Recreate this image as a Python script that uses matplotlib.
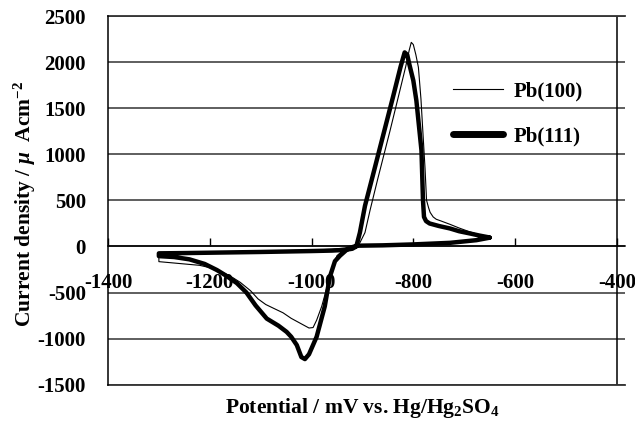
import matplotlib
matplotlib.use("Agg")
import matplotlib.pyplot as plt

plt.rcParams['font.family'] = ['Liberation Serif', 'DejaVu Serif']
plt.rcParams['font.weight'] = 'bold'
plt.rcParams['axes.unicode_minus'] = False
plt.rcParams['mathtext.fontset'] = 'custom'
plt.rcParams['mathtext.rm'] = 'Liberation Serif:bold'
plt.rcParams['mathtext.it'] = 'Liberation Serif:italic:bold'
plt.rcParams['mathtext.bf'] = 'Liberation Serif:bold'

# Pb(100): thin line, sweep starting at -650 mV going negative, then back
x100 = [-650, -700, -760, -820, -880, -920, -935, -950, -960, -970, -980, -990, -997,
        -1005, -1020, -1040, -1056, -1075, -1090, -1105, -1120, -1140, -1160, -1180,
        -1200, -1220, -1240, -1270, -1300,
        -1300, -1250, -1200, -1150, -1100, -1050, -1000, -960, -930, -912, -905, -895,
        -885, -870, -846, -830, -815, -808, -804, -800, -795, -790, -785, -781, -777,
        -774, -770, -767, -761, -755, -745, -728, -710, -690, -670, -650]
y100 = [90, 50, 25, 15, 8, 0, -30, -100, -250, -450, -650, -800, -880,
        -885, -840, -780, -720, -670, -630, -570, -480, -390, -320, -270,
        -230, -205, -195, -180, -165,
        -65, -62, -58, -55, -50, -45, -40, -30, -15, 5, 40, 150,
        393, 730, 1250, 1610, 1950, 2130, 2214, 2190, 2080, 1943, 1600, 1222, 850,
        501, 420, 370, 320, 295, 275, 240, 200, 160, 125, 100]

# Pb(111): thick line
x111 = [-650, -676, -728, -800, -860, -911, -928, -944, -954, -964, -974, -990, -1005,
        -1013, -1020, -1029, -1040, -1049, -1065, -1088, -1110, -1128, -1147, -1170,
        -1186, -1210, -1240, -1270, -1300,
        -1300, -1250, -1200, -1150, -1100, -1050, -1000, -960, -935, -920, -912, -905,
        -895, -880, -860, -840, -825, -817, -812, -808, -800, -794, -784, -781, -779,
        -775, -768, -750, -728, -710, -689, -670, -650]
y111 = [95, 68, 39, 22, 12, 8, -22, -100, -160, -330, -650, -980, -1170,
        -1222, -1200, -1070, -980, -927, -860, -783, -640, -500, -397, -310,
        -256, -190, -140, -115, -105,
        -75, -72, -68, -64, -60, -55, -50, -45, -38, -25, 0, 150,
        440, 760, 1190, 1620, 1950, 2105, 2080, 1980, 1800, 1583, 1042, 501, 320,
        275, 249, 222, 195, 165, 141, 118, 97]

xticks = [-1400, -1200, -1000, -800, -600, -400]
yticks = [-1500, -1000, -500, 0, 500, 1000, 1500, 2000, 2500]

fig = plt.figure(figsize=(6.35, 4.24), dpi=100)
ax = fig.add_axes([108 / 635, 1 - 384.7 / 424, 517 / 635, (384.7 - 16) / 424])

ax.set_xlim(-1400, -384)
ax.set_ylim(-1500, 2500)
ax.set_xticks(xticks)
ax.set_yticks(yticks)

ax.set_axisbelow(True)
ax.yaxis.grid(True, color='#333333', lw=1.1)
ax.xaxis.grid(False)
ax.plot([-400, -400], [-1500, 2500], color='black', lw=1.1, zorder=2)
ax.plot([-1400, -384], [2500, 2500], color='#333333', lw=1.3, zorder=2, clip_on=False)
ax.plot([-1400, -384], [-1500, -1500], color='#333333', lw=1.3, zorder=2, clip_on=False)

l1, = ax.plot(x100, y100, color='black', lw=0.8, zorder=3, label='Pb(100)')
l2, = ax.plot(x111, y111, color='black', lw=3.2, zorder=4, label='Pb(111)',
              solid_joinstyle='round', solid_capstyle='round')

for s in ['right', 'top']:
    ax.spines[s].set_visible(False)
ax.spines['bottom'].set_position(('data', 0))
ax.spines['bottom'].set_color('black')
ax.spines['bottom'].set_linewidth(1.1)
ax.spines['bottom'].set_zorder(2.5)
ax.spines['left'].set_color('black')
ax.spines['left'].set_linewidth(1.1)

ax.tick_params(axis='x', direction='in', length=6, width=1.0, pad=19,
               labelsize=15, top=False, bottom=True)
ax.tick_params(axis='y', length=0, pad=16, labelsize=15)
for t in ax.get_xticklabels() + ax.get_yticklabels():
    t.set_fontweight('bold')

fig.text(363 / 635, 1 - 408 / 424, 'Potential / mV vs. Hg/Hg$_2$SO$_4$',
         ha='center', va='center', fontsize=15.5, fontweight='bold')
fig.text(25 / 635, 1 - 204 / 424, r'Current density / $\mathit{\mu}$  Acm$^{-2}$',
         ha='center', va='center', rotation=90, fontsize=15.5, fontweight='bold')

leg = ax.legend(handles=[l1, l2], loc='center left', frameon=False,
                bbox_to_anchor=(453 / 635, 1 - 113.5 / 424), bbox_transform=fig.transFigure,
                borderpad=0, borderaxespad=0, handlelength=2.4, handletextpad=0.5,
                labelspacing=1.2, prop={'family': 'Liberation Serif', 'weight': 'bold', 'size': 15})
leg.get_lines()[1].set_linewidth(5)

fig.savefig('out.png', dpi=100)
